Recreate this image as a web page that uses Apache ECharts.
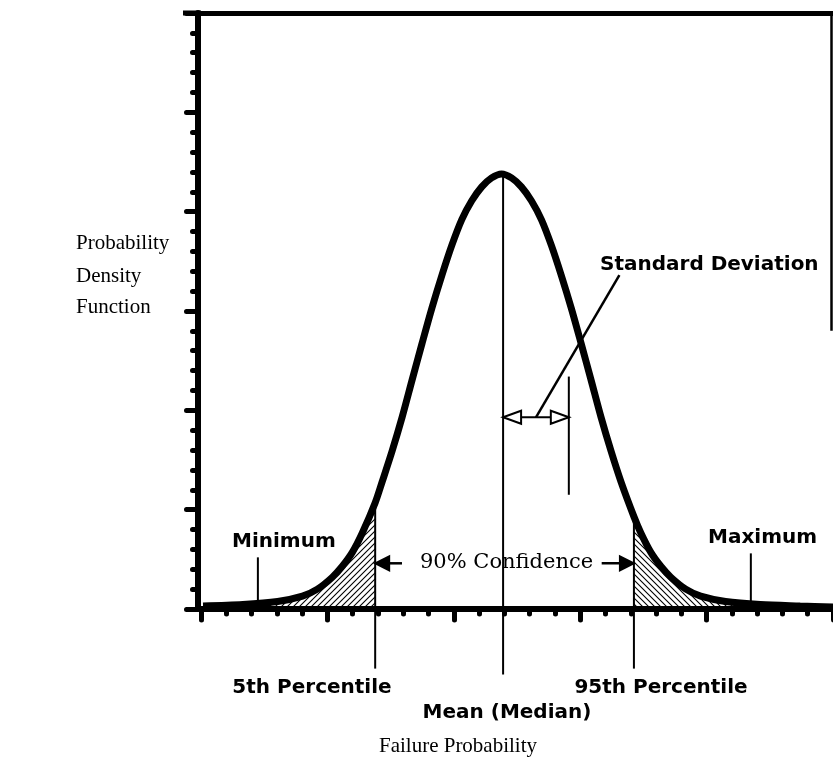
<!DOCTYPE html>
<html>
<head>
<meta charset="utf-8">
<script src="https://cdn.jsdelivr.net/npm/echarts@6/dist/echarts.min.js"></script>
<style>
html, body { margin: 0; padding: 0; background: #fff; }
#main { width: 833px; height: 757px; }
</style>
</head>
<body>
<div id="main"></div>
<script>
// density curve (x in axis units 0..5, y in axis units 0..6)
var curveX = [0.016, 0.331, 0.606, 0.803, 0.921, 1.039, 1.118, 1.197, 1.276, 1.378,
              1.433, 1.512, 1.591, 1.669, 1.748, 1.827, 1.906, 1.984, 2.063, 2.142,
              2.221, 2.299, 2.378, 2.457, 2.535, 2.614, 2.693, 2.772, 2.850, 2.929,
              3.008, 3.087, 3.165, 3.244, 3.323, 3.425, 3.480, 3.559, 3.638, 3.717,
              3.835, 3.953, 4.150, 4.425, 4.740, 5.000];
var curveY = [0.03, 0.045, 0.076, 0.13, 0.20, 0.32, 0.43, 0.57, 0.765, 1.07,
              1.28, 1.59, 1.93, 2.30, 2.67, 3.03, 3.36, 3.66, 3.92, 4.11,
              4.25, 4.34, 4.38, 4.34, 4.25, 4.11, 3.92, 3.66, 3.36, 3.03,
              2.67, 2.30, 1.93, 1.59, 1.28, 0.93, 0.765, 0.57, 0.43, 0.32,
              0.20, 0.13, 0.076, 0.045, 0.03, 0.02];

// marked points on the x axis
var pctNames = ['5th Percentile', 'Mean (Median)', '95th Percentile'];
var pctX = [1.378, 2.39, 3.425];
var pctTop = [1.07, 4.37, 0.93];
var pctBottom = [-0.60, -0.66, -0.60];
var extremeNames = ['Minimum', 'Maximum'];
var extremeX = [0.45, 4.35];
var extremeTop = [0.52, 0.56];
var sdX = [2.39, 2.91];   // mean -> mean + 1 sd

var chart = echarts.init(document.getElementById('main'));

var curve = curveX.map(function (x, i) { return [x, curveY[i]]; });
var leftTail = curve.filter(function (p) { return p[0] <= pctX[0]; });
var rightTail = curve.filter(function (p) { return p[0] >= pctX[2]; });

function hatch(dir) {
    var c = document.createElement('canvas');
    c.width = 6; c.height = 6;
    var g = c.getContext('2d');
    g.strokeStyle = '#000';
    g.lineWidth = 1.1;
    g.beginPath();
    if (dir > 0) {
        g.moveTo(0, 6); g.lineTo(6, 0);
        g.moveTo(-1, 1); g.lineTo(1, -1);
        g.moveTo(5, 7); g.lineTo(7, 5);
    } else {
        g.moveTo(0, 0); g.lineTo(6, 6);
        g.moveTo(-1, 5); g.lineTo(1, 7);
        g.moveTo(5, -1); g.lineTo(7, 1);
    }
    g.stroke();
    return c;
}

var tickStyle = { color: '#000', width: 5, cap: 'round' };

option = {
    animation: false,
    backgroundColor: '#fff',
    grid: { left: 201, top: 13, width: 635, height: 596, show: false },
    xAxis: [{
        type: 'value', min: 0, max: 5, interval: 1, position: 'bottom',
        axisLine: { show: true, onZero: false, lineStyle: { color: '#000', width: 6 } },
        axisTick: { show: true, length: 11, lineStyle: tickStyle },
        minorTick: { show: true, splitNumber: 5, length: 5, lineStyle: tickStyle },
        axisLabel: { show: false },
        splitLine: { show: false }
    }, {
        type: 'value', min: 0, max: 5, position: 'top',
        axisLine: { show: true, onZero: false, lineStyle: { color: '#000', width: 5 } },
        axisTick: { show: false },
        axisLabel: { show: false },
        splitLine: { show: false }
    }],
    yAxis: {
        type: 'value', min: 0, max: 6, interval: 1, offset: 3.5,
        axisLine: { show: true, onZero: false, lineStyle: { color: '#000', width: 6 } },
        axisTick: { show: true, length: 11, lineStyle: tickStyle },
        minorTick: { show: true, splitNumber: 5, length: 5, lineStyle: tickStyle },
        axisLabel: { show: false },
        splitLine: { show: false }
    },
    series: [{
        type: 'line', data: leftTail, smooth: 0.3, symbol: 'none', z: 3,
        lineStyle: { width: 0 },
        areaStyle: { color: { image: hatch(1), repeat: 'repeat' }, opacity: 1 }
    }, {
        type: 'line', data: rightTail, smooth: 0.3, symbol: 'none', z: 3,
        lineStyle: { width: 0 },
        areaStyle: { color: { image: hatch(-1), repeat: 'repeat' }, opacity: 1 }
    }, {
        type: 'line', data: curve, smooth: 0.3, symbol: 'none', z: 5,
        lineStyle: { color: '#000', width: 7 }
    }]
};
chart.setOption(option);

// annotations
function P(x, y) { return chart.convertToPixel({ xAxisIndex: 0, yAxisIndex: 0 }, [x, y]); }
function seg(a, b, w) {
    var p = P(a[0], a[1]), q = P(b[0], b[1]);
    return { type: 'line', z: 10, shape: { x1: p[0], y1: p[1], x2: q[0], y2: q[1] },
             style: { stroke: '#000', lineWidth: w || 2 } };
}
function head(tip, dir, filled) {
    var len = filled ? 14 : 18, h = filled ? 7 : 6.5;
    return { type: 'polygon', z: 11,
             shape: { points: [[tip[0], tip[1]], [tip[0] - dir * len, tip[1] - h], [tip[0] - dir * len, tip[1] + h]] },
             style: { fill: filled ? '#000' : '#fff', stroke: '#000', lineWidth: 2 } };
}
function label(t, x, y, font, align) {
    return { type: 'text', z: 12,
             style: { text: t, x: x, y: y, font: font, fill: '#000',
                      textAlign: align || 'left', align: align || 'left',
                      textVerticalAlign: 'middle', verticalAlign: 'middle' } };
}
var bold = 'bold 20px "DejaVu Sans"';
var serif = '21px "DejaVu Serif"';
var times = '21px "Liberation Serif"';

var g = [];
// top border overhang and the right border (cut by the picture edge)
var tl = P(0, 6), rt = P(5, 2.8), W = chart.getWidth();
g.push({ type: 'line', z: 10, shape: { x1: 183, y1: tl[1], x2: tl[0], y2: tl[1] }, style: { stroke: '#000', lineWidth: 5 } });
g.push({ type: 'line', z: 10, shape: { x1: W - 1.5, y1: tl[1], x2: W - 1.5, y2: rt[1] }, style: { stroke: '#000', lineWidth: 2.5 } });

pctX.forEach(function (x, i) {
    g.push(seg([x, pctTop[i]], [x, pctBottom[i]], 2));
});
extremeX.forEach(function (x, i) {
    g.push(seg([x, 0], [x, extremeTop[i]], 2));
});

// standard deviation marker
g.push(seg([sdX[1], 2.34], [sdX[1], 1.15], 2));
g.push(seg([sdX[0], 1.93], [sdX[1], 1.93], 2));
g.push(head(P(sdX[0], 1.93), -1, false));
g.push(head(P(sdX[1], 1.93), 1, false));
g.push(seg([2.65, 1.93], [3.31, 3.36], 2.5));

// 90% confidence arrows
g.push(seg([pctX[0], 0.46], [1.59, 0.46], 2.5));
g.push(head(P(pctX[0], 0.46), -1, true));
g.push(seg([3.17, 0.46], [pctX[2], 0.46], 2.5));
g.push(head(P(pctX[2], 0.46), 1, true));

// texts
g.push(label('Probability', 76, 243, times));
g.push(label('Density', 76, 276, times));
g.push(label('Function', 76, 307, times));
g.push(label('Standard Deviation', 600, 265, bold));
g.push(label(extremeNames[0], 232, 542, bold));
g.push(label(extremeNames[1], 708, 538, bold));
g.push(label('90% Confidence', 420, 563, serif));
g.push(label(pctNames[0], 312, 688, bold, 'center'));
g.push(label(pctNames[1], 507, 713, bold, 'center'));
g.push(label(pctNames[2], 661, 688, bold, 'center'));
g.push(label('Failure Probability', 458, 746, times, 'center'));

chart.setOption({ graphic: { elements: g } });
</script>
</body>
</html>
